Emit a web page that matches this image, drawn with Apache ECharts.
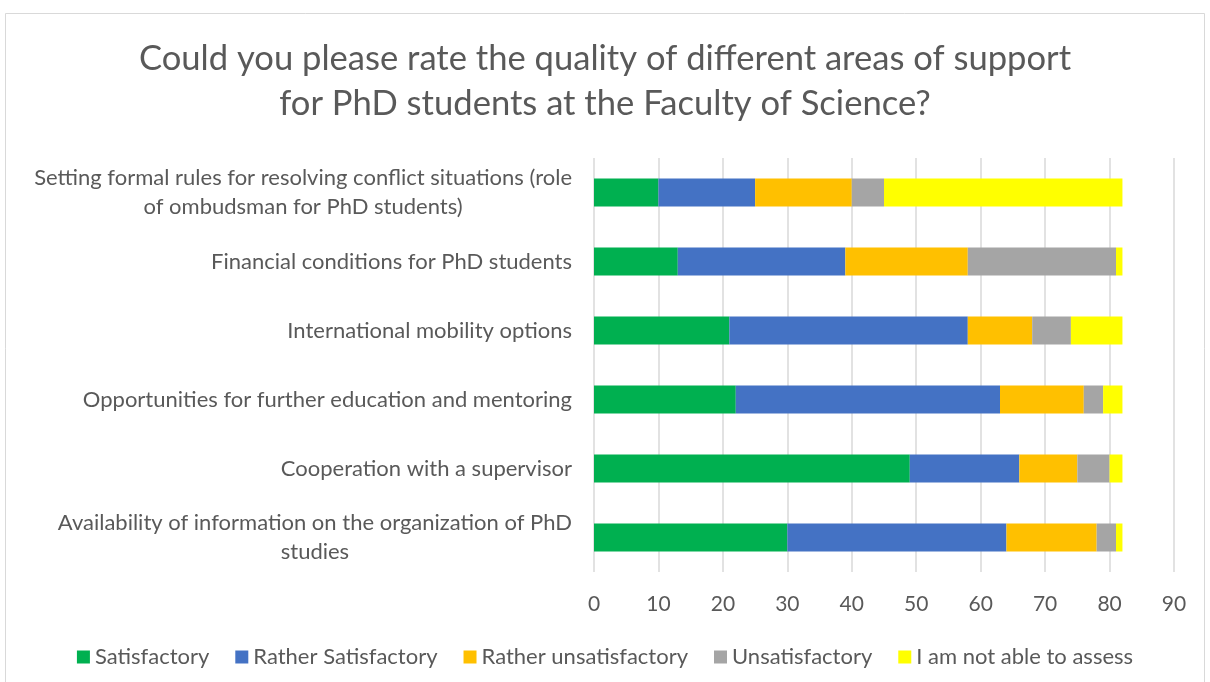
<!DOCTYPE html>
<html>
<head>
<meta charset="utf-8">
<script src="https://cdn.jsdelivr.net/npm/echarts@6/dist/echarts.min.js"></script>
<style>
html,body{margin:0;padding:0;background:#fff;}
#chart{width:1210px;height:682px;}
</style>
</head>
<body>
<div id="chart"></div>
<script>
// Categories listed top to bottom
const categories = [
  "Setting formal rules for resolving conflict situations (role\nof ombudsman for PhD students)",
  "Financial conditions for PhD students",
  "International mobility options",
  "Opportunities for further education and mentoring",
  "Cooperation with a supervisor",
  "Availability of information on the organization of PhD\nstudies"
];
const seriesNames = ["Satisfactory", "Rather Satisfactory", "Rather unsatisfactory", "Unsatisfactory", "I am not able to assess"];
const satisfactory        = [10, 13, 21, 22, 49, 30];
const ratherSatisfactory  = [15, 26, 37, 41, 17, 34];
const ratherUnsatisfactory= [15, 19, 10, 13,  9, 14];
const unsatisfactory      = [ 5, 23,  6,  3,  5,  3];
const notAbleToAssess     = [37,  1,  8,  3,  2,  1];
const xTicks = [0, 10, 20, 30, 40, 50, 60, 70, 80, 90];

const colors = ["#00B050", "#4472C4", "#FFC000", "#A5A5A5", "#FFFF00"];
const values = [satisfactory, ratherSatisfactory, ratherUnsatisfactory, unsatisfactory, notAbleToAssess];
const FONT = "Lato, 'Open Sans', sans-serif";
const TXT = "#595959";

const chart = echarts.init(document.getElementById('chart'), null, {renderer: 'canvas'});
chart.setOption({
  backgroundColor: '#ffffff',
  animation: false,
  textStyle: {fontFamily: FONT},
  title: {
    text: "Could you please rate the quality of different areas of support\nfor PhD students at the Faculty of Science?",
    left: 'center',
    top: 31,
    textStyle: {fontFamily: FONT, fontSize: 34.6, fontWeight: 'normal', color: TXT, lineHeight: 45, align: 'center'}
  },
  graphic: [{
    type: 'rect',
    shape: {x: 5.5, y: 13.5, width: 1199, height: 700},
    style: {fill: 'none', stroke: '#d9d9d9', lineWidth: 1},
    silent: true, z: -10
  }],
  legend: {
    data: seriesNames,
    bottom: 9,
    left: 'center',
    icon: 'rect',
    itemWidth: 13,
    itemHeight: 13,
    itemGap: 26,
    textStyle: {fontFamily: FONT, fontSize: 22, color: TXT}
  },
  grid: {left: 594, right: 36, top: 158, bottom: 110, containLabel: false},
  xAxis: {
    type: 'value',
    min: xTicks[0],
    max: xTicks[xTicks.length - 1],
    interval: 10,
    axisLine: {show: false},
    axisTick: {show: false},
    axisLabel: {fontFamily: FONT, fontSize: 21, color: TXT, margin: 22},
    splitLine: {show: true, lineStyle: {color: '#d9d9d9', width: 1.5}}
  },
  yAxis: {
    type: 'category',
    inverse: true,
    data: categories,
    axisLine: {show: false},
    axisTick: {show: false},
    axisLabel: {
      margin: 22,
      formatter: function (v) { return v.split('\n').map(s => '{a|' + s + '}').join('\n'); },
      rich: {a: {fontFamily: FONT, fontSize: 22, color: TXT, align: 'center', lineHeight: 29}}
    }
  },
  series: seriesNames.map((name, i) => ({
    name: name,
    type: 'bar',
    stack: 'total',
    barWidth: 28,
    itemStyle: {color: colors[i]},
    data: values[i]
  }))
});
</script>
</body>
</html>
